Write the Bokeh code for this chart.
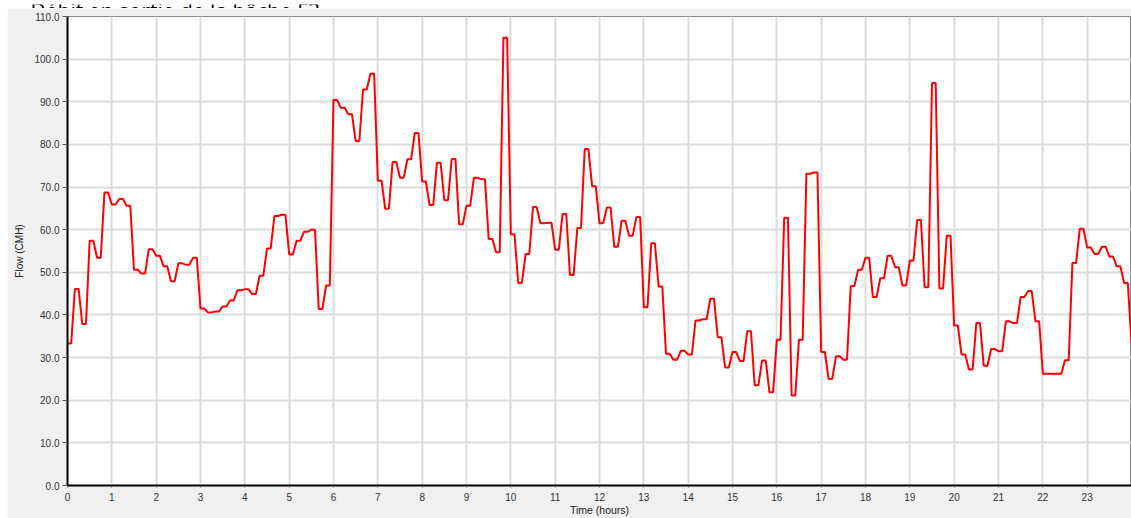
from bokeh.plotting import figure
from bokeh.models import Range1d, FixedTicker, Label, PrintfTickFormatter, Spacer
from bokeh.layouts import column, row
from bokeh.embed import file_html
from bokeh.resources import INLINE

title_text = "Débit en sortie de la bâche F3"
x_label = "Time (hours)"
y_label = "Flow (CMH)"
x_ticks = list(range(0, 25))
y_ticks = [0, 10, 20, 30, 40, 50, 60, 70, 80, 90, 100, 110]

# flow values every 10 minutes (each held for one 5-minute report step)
step_hours = 1 / 6
flow = [
    33.3, 46.1, 37.9, 57.4, 53.4, 68.7,
    65.9, 67.2, 65.6, 50.6, 49.7, 55.4,
    53.9, 51.4, 47.9, 52.1, 51.8, 53.4,
    41.5, 40.6, 40.8, 42.0, 43.4, 45.8,
    46.0, 44.9, 49.2, 55.6, 63.2, 63.5,
    54.2, 57.4, 59.5, 60.0, 41.4, 46.9,
    90.4, 88.6, 87.1, 80.8, 92.9, 96.6,
    71.5, 64.9, 75.9, 72.2, 76.5, 82.7,
    71.3, 65.8, 75.7, 66.9, 76.6, 61.3,
    65.6, 72.2, 71.8, 57.8, 54.7, 105.0,
    58.9, 47.5, 54.3, 65.3, 61.5, 61.6,
    55.3, 63.7, 49.4, 60.4, 78.9, 70.2,
    61.5, 65.2, 56.0, 62.1, 58.6, 63.0,
    41.8, 56.8, 46.7, 30.9, 29.5, 31.6,
    30.7, 38.7, 39.0, 43.8, 34.8, 27.7,
    31.3, 29.2, 36.2, 23.5, 29.3, 21.9,
    34.2, 62.8, 21.1, 34.2, 73.1, 73.4,
    31.3, 25.0, 30.3, 29.5, 46.8, 50.6,
    53.4, 44.2, 48.6, 53.9, 51.2, 46.9,
    52.8, 62.3, 46.5, 94.4, 46.2, 58.6,
    37.5, 30.7, 27.2, 38.1, 28.1, 32.0,
    31.5, 38.5, 38.1, 44.2, 45.6, 38.5,
    26.2, 26.2, 26.2, 29.4, 52.2, 60.2,
    55.8, 54.3, 56.0, 53.7, 51.4, 47.5,
    33.4,
]

xs, ys = [], []
for k, v in enumerate(flow[:-1]):
    t = k * step_hours
    xs += [t, t + step_hours / 2]
    ys += [v, v]
xs.append((len(flow) - 1) * step_hours)
ys.append(flow[-1])

# --- strip holding the title (only its lower part shows, as in the screenshot)
TW, TH = 1131, 8
tfig = figure(width=TW, height=TH, x_range=Range1d(0, TW), y_range=Range1d(0, TH),
              output_backend="svg", toolbar_location=None,
              x_axis_location=None, y_axis_location=None,
              min_border_left=0, min_border_right=0, min_border_top=0, min_border_bottom=0)
tfig.grid.visible = False
tfig.outline_line_color = None
tfig.background_fill_color = "white"
tfig.border_fill_color = "white"
tfig.add_layout(Label(x=30, y=2, text=title_text,
                      text_font="Open Sans", text_font_size="21px", text_color="black",
                      text_baseline="alphabetic", text_align="left"))

# --- main chart panel
W, H = 1124, 510
p = figure(
    width=W, height=H,
    x_range=Range1d(0, 24), y_range=Range1d(0, 110),
    output_backend="svg", toolbar_location=None,
    min_border_left=60, min_border_right=0, min_border_top=8, min_border_bottom=32,
)
p.border_fill_color = "#f0f0f0"
p.background_fill_color = "white"
p.outline_line_color = "#8a8a8a"
p.outline_line_width = 1

p.line(xs, ys, line_color="#ff0000", line_width=2)

for ax in (p.xaxis[0], p.yaxis[0]):
    ax.axis_line_color = "black"
    ax.axis_line_width = 2
    ax.major_tick_line_color = "#555555"
    ax.minor_tick_line_color = None
    ax.major_tick_in = 0
    ax.major_label_text_font = "Liberation Sans"
    ax.major_label_text_font_size = "10px"
    ax.major_label_text_color = "#333333"
    ax.axis_label_text_font = "Liberation Sans"
    ax.axis_label_text_font_style = "normal"
    ax.axis_label_text_color = "#222222"

p.xaxis.ticker = FixedTicker(ticks=x_ticks)
p.yaxis.ticker = FixedTicker(ticks=y_ticks)
p.yaxis.formatter = PrintfTickFormatter(format="%.1f")
# the last hour label sits on the right edge of the window and is cut there
last_tick = x_ticks[-1]
p.xaxis.major_label_overrides = {last_tick: ""}
p.add_layout(Label(x=last_tick, y=-3.05, text=str(last_tick),
                   text_font="Liberation Sans", text_font_size="10px", text_color="#333333",
                   text_align="center", text_baseline="middle"))
p.xaxis.major_tick_out = 2
p.xaxis.major_label_standoff = 5
p.yaxis.major_tick_out = 5
p.yaxis.major_label_standoff = 3
p.xaxis.axis_label = x_label
p.yaxis.axis_label = y_label
p.xaxis.axis_label_text_font_size = "10.5px"
p.yaxis.axis_label_text_font_size = "10px"
p.xaxis.axis_label_standoff = 0
p.yaxis.axis_label_standoff = 6

p.xgrid.ticker = FixedTicker(ticks=x_ticks)
p.ygrid.ticker = FixedTicker(ticks=y_ticks)
p.grid.grid_line_color = "#dcdcdc"
p.grid.grid_line_width = 2

layout = column(tfig, row(Spacer(width=7, height=H), p, spacing=0), spacing=0)

open("out.html", "w").write(file_html(layout, INLINE))
